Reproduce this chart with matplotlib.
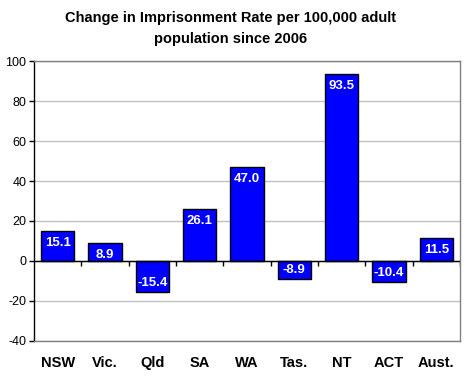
import numpy as np
import matplotlib
matplotlib.use("Agg")
import matplotlib.pyplot as plt

plt.rcParams['font.family'] = ['Liberation Sans', 'DejaVu Sans']

states = ["NSW", "Vic.", "Qld", "SA", "WA", "Tas.", "NT", "ACT", "Aust."]
change = [15.1, 8.9, -15.4, 26.1, 47.0, -8.9, 93.5, -10.4, 11.5]
y_ticks = [-40, -20, 0, 20, 40, 60, 80, 100]

fig = plt.figure(figsize=(4.7, 3.83), dpi=100)
ax = fig.add_axes([0.0723, 0.1097, 0.9064, 0.731])

x = np.arange(len(states))
bars = ax.bar(x, change, width=0.7, color="#0000FF", edgecolor="black",
              linewidth=1, zorder=3)

# value labels inside the end of each bar
for xi, v in zip(x, change):
    if v >= 0:
        ax.annotate(f"{v:.1f}", (xi, v), xytext=(0, -4.5), textcoords="offset points",
                    ha="center", va="top", color="white", fontsize=9.5,
                    fontweight="bold", zorder=4)
    else:
        ax.annotate(f"{v:.1f}", (xi, v), xytext=(0, 2), textcoords="offset points",
                    ha="center", va="bottom", color="white", fontsize=9.5,
                    fontweight="bold", zorder=4)

ax.set_xlim(-0.5, len(states) - 0.5)
ax.set_ylim(-40, 100)
ax.set_yticks(y_ticks)
ax.set_yticklabels([str(t) for t in y_ticks], fontsize=9)
ax.set_xticks(x)
ax.set_xticklabels(states, fontsize=10.5, fontweight="bold")
ax.tick_params(axis="x", length=0, pad=11)
ax.tick_params(axis="y", direction="out", length=3.5, width=1, color="black", pad=2)

ax.yaxis.grid(True, color="#C0C0C0", linewidth=1, zorder=0)
ax.set_axisbelow(True)

# zero axis with category separators
ax.axhline(0, color="black", linewidth=1, zorder=5)
ax.vlines(np.arange(0.5, len(states), 1), -2.5, 0, color="black", linewidth=1, zorder=5)

for side in ["top", "right", "bottom"]:
    ax.spines[side].set_color("#808080")
    ax.spines[side].set_linewidth(1)
ax.spines["left"].set_color("black")
ax.spines["left"].set_linewidth(1)

fig.text(0.49, 0.97, "Change in Imprisonment Rate per 100,000 adult\npopulation since 2006",
         ha="center", va="top", fontsize=10.5, fontweight="bold", linespacing=1.55)

fig.savefig("out.png", dpi=100)
